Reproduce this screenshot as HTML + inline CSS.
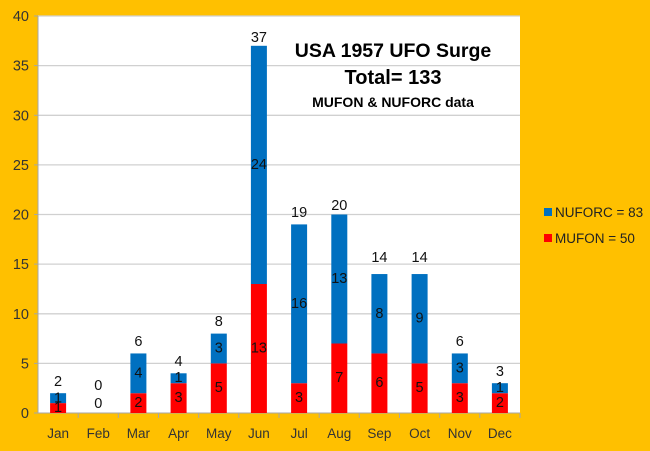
<!DOCTYPE html>
<html><head><meta charset="utf-8"><style>
html,body{margin:0;padding:0;background:#FFC000;}
svg{display:block;font-family:"Liberation Sans",Calibri,sans-serif;}
</style></head><body>
<svg width="650" height="451" viewBox="0 0 650 451" xmlns="http://www.w3.org/2000/svg">
<rect width="650" height="451" fill="#FFC000"/>
<rect x="38" y="16" width="482" height="397" fill="#fff"/>
<g stroke="#d0d0d0" stroke-width="1.3">
<line x1="38" x2="520" y1="16" y2="16"/><line x1="38" x2="520" y1="65.6" y2="65.6"/>
<line x1="38" x2="520" y1="115.3" y2="115.3"/><line x1="38" x2="520" y1="164.9" y2="164.9"/>
<line x1="38" x2="520" y1="214.5" y2="214.5"/><line x1="38" x2="520" y1="264.1" y2="264.1"/>
<line x1="38" x2="520" y1="313.8" y2="313.8"/><line x1="38" x2="520" y1="363.4" y2="363.4"/>
</g>
<g stroke="#a6a6a6" stroke-width="1">
<line x1="38" x2="38" y1="16" y2="413"/><line x1="34" x2="520" y1="413" y2="413"/>
<line x1="34" x2="38" y1="16" y2="16"/><line x1="34" x2="38" y1="65.6" y2="65.6"/><line x1="34" x2="38" y1="115.3" y2="115.3"/><line x1="34" x2="38" y1="164.9" y2="164.9"/><line x1="34" x2="38" y1="214.5" y2="214.5"/><line x1="34" x2="38" y1="264.1" y2="264.1"/><line x1="34" x2="38" y1="313.8" y2="313.8"/><line x1="34" x2="38" y1="363.4" y2="363.4"/>
<line x1="78.2" x2="78.2" y1="413" y2="418"/><line x1="118.3" x2="118.3" y1="413" y2="418"/><line x1="158.5" x2="158.5" y1="413" y2="418"/><line x1="198.7" x2="198.7" y1="413" y2="418"/><line x1="238.8" x2="238.8" y1="413" y2="418"/><line x1="279" x2="279" y1="413" y2="418"/><line x1="319.2" x2="319.2" y1="413" y2="418"/><line x1="359.3" x2="359.3" y1="413" y2="418"/><line x1="399.5" x2="399.5" y1="413" y2="418"/><line x1="439.7" x2="439.7" y1="413" y2="418"/><line x1="479.8" x2="479.8" y1="413" y2="418"/><line x1="520" x2="520" y1="413" y2="418"/>
</g>
<g font-size="14.5" fill="#333" text-anchor="end">
<text x="29" y="21">40</text><text x="29" y="70.6">35</text><text x="29" y="120.3">30</text><text x="29" y="169.9">25</text><text x="29" y="219.5">20</text><text x="29" y="269.1">15</text><text x="29" y="318.8">10</text><text x="29" y="368.4">5</text><text x="29" y="418">0</text>
</g>
<g font-size="13.5" fill="#333" text-anchor="middle">
<text x="58.1" y="438">Jan</text><text x="98.3" y="438">Feb</text><text x="138.4" y="438">Mar</text><text x="178.6" y="438">Apr</text><text x="218.8" y="438">May</text><text x="258.9" y="438">Jun</text><text x="299.1" y="438">Jul</text><text x="339.3" y="438">Aug</text><text x="379.4" y="438">Sep</text><text x="419.6" y="438">Oct</text><text x="459.8" y="438">Nov</text><text x="499.9" y="438">Dec</text>
</g>
<g fill="#FF0000">
<rect x="50.1" y="403.1" width="16" height="9.9"/>
<rect x="130.4" y="393.2" width="16" height="19.8"/>
<rect x="170.6" y="383.2" width="16" height="29.8"/>
<rect x="210.8" y="363.4" width="16" height="49.6"/>
<rect x="250.9" y="284" width="16" height="129"/>
<rect x="291.1" y="383.2" width="16" height="29.8"/>
<rect x="331.3" y="343.5" width="16" height="69.5"/>
<rect x="371.4" y="353.45" width="16" height="59.55"/>
<rect x="411.6" y="363.4" width="16" height="49.6"/>
<rect x="451.8" y="383.2" width="16" height="29.8"/>
<rect x="491.9" y="393.2" width="16" height="19.8"/>
</g>
<g fill="#0070C0">
<rect x="50.1" y="393.2" width="16" height="9.9"/>
<rect x="130.4" y="353.45" width="16" height="39.75"/>
<rect x="170.6" y="373.3" width="16" height="9.9"/>
<rect x="210.8" y="333.6" width="16" height="29.8"/>
<rect x="250.9" y="45.8" width="16" height="238.2"/>
<rect x="291.1" y="224.4" width="16" height="158.8"/>
<rect x="331.3" y="214.5" width="16" height="129"/>
<rect x="371.4" y="274.05" width="16" height="79.4"/>
<rect x="411.6" y="274.05" width="16" height="89.35"/>
<rect x="451.8" y="353.45" width="16" height="29.75"/>
<rect x="491.9" y="383.2" width="16" height="10"/>
</g>
<g font-size="14.5" fill="#111" text-anchor="middle" dominant-baseline="central">
<text x="58.1" y="408">1</text><text x="58.1" y="398.5">1</text>
<text x="98.3" y="404">0</text><text x="98.3" y="386">0</text>
<text x="138.4" y="403">2</text><text x="138.4" y="373.3">4</text>
<text x="178.6" y="398">3</text><text x="178.6" y="378.2">1</text>
<text x="218.8" y="388.2">5</text><text x="218.8" y="348.5">3</text>
<text x="258.9" y="348.5">13</text><text x="258.9" y="164.9">24</text>
<text x="299.1" y="398">3</text><text x="299.1" y="303.8">16</text>
<text x="339.3" y="378.2">7</text><text x="339.3" y="279">13</text>
<text x="379.4" y="383.2">6</text><text x="379.4" y="313.8">8</text>
<text x="419.6" y="388.2">5</text><text x="419.6" y="318.7">9</text>
<text x="459.8" y="398">3</text><text x="459.8" y="368.3">3</text>
<text x="499.9" y="403">2</text><text x="499.9" y="388.2">1</text>
</g>
<g font-size="14.5" fill="#111" text-anchor="middle">
<text x="58.1" y="386">2</text>
<text x="138.4" y="346">6</text>
<text x="178.6" y="366">4</text>
<text x="218.8" y="326">8</text>
<text x="258.9" y="42">37</text>
<text x="299.1" y="217">19</text>
<text x="339.3" y="210">20</text>
<text x="379.4" y="262">14</text>
<text x="419.6" y="262">14</text>
<text x="459.8" y="346">6</text>
<text x="499.9" y="376">3</text>
</g>
<g font-weight="bold" fill="#000" text-anchor="middle">
<text x="393" y="57" font-size="19.5">USA 1957 UFO Surge</text>
<text x="393" y="84" font-size="20">Total= 133</text>
<text x="393" y="107" font-size="14">MUFON &amp; NUFORC data</text>
</g>
<rect x="544" y="208" width="8" height="8" fill="#0070C0"/>
<rect x="544" y="234" width="8" height="8" fill="#FF0000"/>
<g font-size="13.5" fill="#222">
<text x="555" y="217">NUFORC = 83</text>
<text x="555" y="243">MUFON = 50</text>
</g>
</svg>
</body></html>
